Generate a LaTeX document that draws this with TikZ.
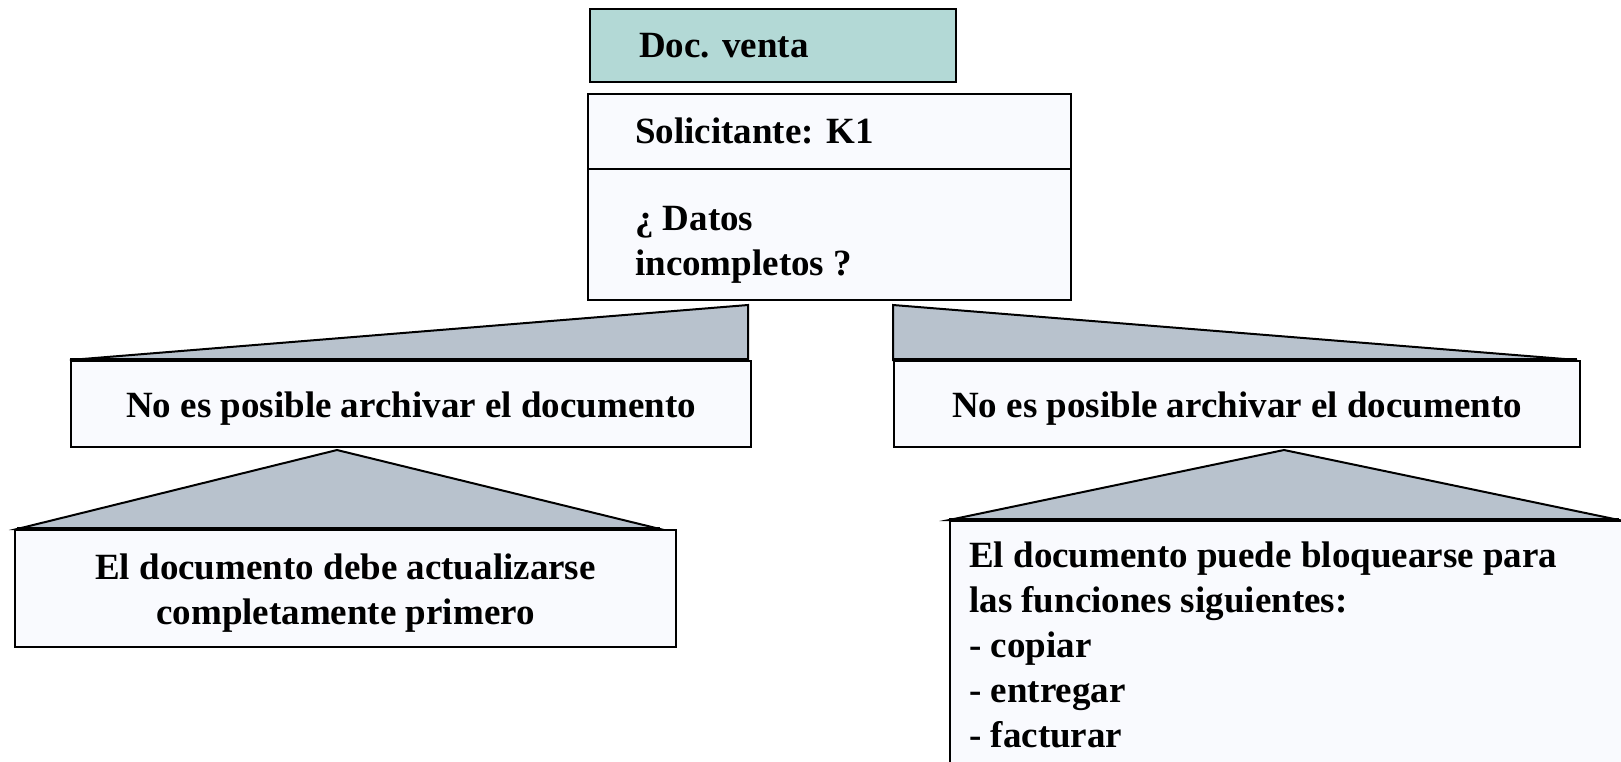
\documentclass[tikz,border=0pt]{standalone}
\usepackage{fontspec}
\setmainfont{Liberation Serif}
\usetikzlibrary{calc}
\definecolor{boxfill}{HTML}{F9FAFE}
\definecolor{trifill}{HTML}{B8C2CD}
\definecolor{docfill}{HTML}{B3D9D6}
\begin{document}
\begin{tikzpicture}[x=1pt,y=-1pt,
  box/.style={draw=black, line width=2pt, fill=boxfill, rectangle, inner sep=0pt, anchor=north west},
  docbox/.style={box, fill=docfill},
  tri/.style={draw=black, line width=2pt, fill=trifill, line join=miter},
  base/.style={draw=black, line width=3.5pt},
  txt/.style={font=\fontsize{37}{45}\selectfont\bfseries, inner sep=0pt}]
\useasboundingbox (0,0) rectangle (1621,761);
\clip (0,0) rectangle (1621,761);
% top boxes
\node[docbox, minimum width=366pt, minimum height=73pt] (doc) at (589,8) {};
\node[txt, anchor=base west] (doct) at (639,57) {Doc. venta};
\node[box, minimum width=483pt, minimum height=206pt] (main) at (587,93) {};
\draw[line width=2pt] (587,169) -- (1070,169);
\node[txt, anchor=base west] (sol) at (635,143) {Solicitante: K1};
\node[txt, anchor=base west] (datos) at (635,230) {¿ Datos};
\node[txt, anchor=base west] (incomp) at (635,275) {incompletos ?};
% level 2
\coordinate (tL) at (748,305);
\coordinate (tR) at (893,305);
\node[box, minimum width=680pt, minimum height=86pt] (lno) at (70,360) {};
\node[box, minimum width=686pt, minimum height=86pt] (rno) at (893,360) {};
\filldraw[tri] (lno.north west) -- (tL) -- (tL |- lno.north) -- cycle;
\draw[base] (lno.north west) -- (tL |- lno.north);
\filldraw[tri] (tR) -- (tR |- rno.north) -- (1577,360) -- cycle;
\draw[base] (tR |- rno.north) -- (1577,360);
\node[txt, yshift=-5pt] (lnot) at (lno.center) {No es posible archivar el documento};
\node[txt, yshift=-5pt] (rnot) at (rno.center) {No es posible archivar el documento};
% level 3
\coordinate (aL) at (337,450);
\coordinate (aR) at (1284,450);
\node[box, minimum width=661pt, minimum height=117pt] (lb) at (14,529) {};
\node[box, minimum width=700pt, minimum height=260pt] (rb) at (949,520) {};
\filldraw[tri] (17,529) -- (aL) -- (660,529) -- cycle;
\draw[base] (17,529) -- (660,529);
\filldraw[tri] (949,520) -- (aR) -- (1619,520) -- cycle;
\draw[base] (949,520) -- (1619,520);
\node[txt, align=center, yshift=-5pt] (lbt) at (lb.center) {El documento debe actualizarse\\completamente primero};
\node[txt, anchor=north west, align=left] (rbt) at (969,542) {El documento puede bloquearse para\\las funciones siguientes:\\- copiar\\- entregar\\- facturar};
\end{tikzpicture}
\end{document}
